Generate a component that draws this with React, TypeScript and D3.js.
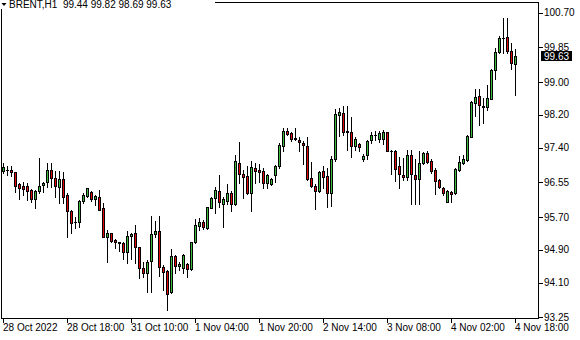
import React from "react";
import * as d3 from "d3";

const symbolLabel = "BRENT,H1";
const lastQuote = ["99.44", "99.82", "98.69", "99.63"];
const lastPriceLabel = "99.63";
const lastPrice = 99.63;

const opens = [96.84,96.86,96.85,96.80,96.50,96.46,96.46,96.37,96.15,96.35,96.49,96.57,96.85,96.67,96.45,96.63,96.24,95.85,95.59,95.59,96.10,96.23,96.31,96.15,96.20,95.92,95.22,95.31,95.14,95.09,95.06,94.86,95.25,95.31,94.96,94.47,94.33,94.64,95.28,95.36,94.49,94.39,93.86,94.75,94.51,94.45,94.56,94.43,95.09,95.49,95.58,95.43,95.93,96.16,96.33,96.03,96.10,96.28,96.02,97.02,96.76,96.71,96.28,96.90,96.85,96.82,96.54,96.50,96.72,96.94,97.45,97.81,97.75,97.63,97.59,97.51,97.44,96.65,96.47,96.35,96.83,96.71,96.30,97.12,98.20,98.24,97.81,97.78,97.45,97.49,97.12,97.22,97.58,97.70,97.60,97.60,97.78,97.33,97.33,96.95,96.73,96.68,97.21,96.73,96.63,97.03,97.26,97.07,96.85,96.61,96.42,96.08,96.31,96.28,96.85,97.02,97.10,97.67,98.50,98.66,98.42,98.40,98.59,99.30,99.75,100.08,100.10,99.77,99.44];
const highs = [97.02,96.95,96.94,96.81,96.54,96.56,96.54,96.38,96.37,97.15,96.55,97.02,97.02,96.84,96.84,96.81,96.28,95.88,95.71,96.12,96.30,96.42,96.35,96.24,96.37,96.04,95.39,95.32,95.16,95.10,95.10,95.37,95.31,95.50,94.98,94.61,94.65,95.73,95.61,95.73,94.52,94.41,94.93,94.78,94.61,94.80,94.57,95.10,95.66,95.67,95.63,95.96,96.20,96.44,96.73,96.19,96.51,96.34,97.22,97.55,96.85,96.96,97.07,97.03,96.99,96.90,96.76,96.67,96.98,97.51,97.87,97.89,97.79,97.87,97.65,97.56,97.66,97.06,96.52,96.84,96.95,96.90,97.20,98.35,98.36,98.41,98.42,98.16,97.65,97.51,97.24,97.59,97.79,97.81,97.81,97.83,97.79,97.34,97.34,97.16,97.14,97.34,97.34,97.12,97.33,97.30,97.33,97.12,96.90,96.63,96.45,96.37,96.34,96.90,97.20,97.22,97.71,98.54,98.83,98.83,98.61,98.93,99.32,99.83,100.13,100.56,100.56,99.95,99.82];
const lows = [96.77,96.73,96.71,96.32,96.15,96.24,96.12,96.08,95.93,96.30,96.32,96.45,96.45,96.19,96.04,96.04,95.22,95.31,95.44,95.45,96.04,96.20,96.10,96.00,95.88,95.21,94.61,95.10,94.94,94.87,94.69,94.57,94.69,94.57,94.22,94.25,93.88,93.88,95.22,94.26,93.92,93.42,93.84,94.33,94.41,94.34,94.23,94.41,95.06,95.39,95.41,95.41,95.92,95.81,95.96,95.47,96.02,95.84,96.00,96.53,96.18,96.26,95.86,96.54,96.55,96.42,96.42,96.49,96.57,96.90,97.33,97.71,97.56,97.59,97.32,97.01,96.60,96.44,95.90,96.32,96.41,95.96,95.98,97.08,97.69,97.70,97.34,97.16,97.34,97.33,97.07,97.12,97.51,97.59,97.55,97.49,97.33,96.75,96.59,96.41,96.61,96.61,96.02,96.02,96.02,97.00,97.02,96.79,96.27,96.41,96.24,96.07,96.06,96.27,96.84,97.00,97.08,97.65,98.18,97.95,98.00,98.31,98.58,99.08,99.71,99.72,99.71,99.32,98.69];
const closes = [96.92,96.85,96.80,96.47,96.41,96.39,96.35,96.15,96.34,96.46,96.53,96.85,96.65,96.47,96.63,96.20,95.84,95.57,95.58,96.10,96.24,96.41,96.15,96.22,95.88,95.22,95.31,95.13,95.09,95.08,94.86,95.25,95.28,94.96,94.47,94.34,94.61,95.28,95.36,94.49,94.37,93.82,94.74,94.51,94.55,94.78,94.43,95.09,95.51,95.59,95.45,95.94,96.16,96.36,96.06,96.14,96.28,96.02,97.07,96.75,96.69,96.28,96.92,96.84,96.81,96.54,96.73,96.63,96.95,97.47,97.81,97.74,97.62,97.62,97.53,97.46,96.63,96.46,96.35,96.81,96.69,96.30,97.12,98.22,98.26,97.79,97.78,97.45,97.61,97.41,97.20,97.56,97.71,97.71,97.77,97.78,97.33,97.32,96.89,96.76,96.68,97.21,96.75,96.63,97.02,97.26,97.04,96.84,96.59,96.43,96.28,96.34,96.26,96.87,97.05,97.12,97.69,98.51,98.65,98.44,98.39,98.61,99.30,99.75,100.07,100.09,99.76,99.46,99.63];

const priceTicks = [100.70, 99.85, 99.00, 98.20, 97.40, 96.55, 95.70, 94.90, 94.10, 93.25];
const timeTickIndex = [0, 16, 32, 48, 64, 80, 96, 112, 128];
const timeTickLabels = ["28 Oct 2022", "28 Oct 18:00", "31 Oct 10:00", "1 Nov 04:00", "1 Nov 20:00", "2 Nov 14:00", "3 Nov 08:00", "4 Nov 02:00", "4 Nov 18:00"];

const W = 580;
const H = 340;
const L = 1.5, T = 2.5, R = 538.5, B = 318.5;
const UP = "#3cbc3c";
const DOWN = "#e2080a";
const FONT = "'Liberation Sans', Arial, sans-serif";

export default function App() {
  const y = d3.scaleLinear().domain([93.25, 100.70]).range([317.4, 12.7]);
  const x = d3.scaleLinear().domain([0, opens.length - 1]).range([3.5, 515.5]);

  const candles = opens.map((o, i) => {
    const c = closes[i];
    const cx = x(i);
    const yh = Math.round(y(highs[i]));
    const yl = Math.round(y(lows[i]));
    const yt = Math.round(y(Math.max(o, c)));
    const yb = Math.round(y(Math.min(o, c)));
    const col = c >= o ? UP : DOWN;
    return (
      <g key={i}>
        <line x1={cx} x2={cx} y1={yh} y2={yl + 1} stroke="#000" strokeWidth={1} />
        {yb - yt < 1 ? (
          <line x1={cx - 1.5} x2={cx + 1.5} y1={yt + 0.5} y2={yt + 0.5} stroke="#000" strokeWidth={1} />
        ) : (
          <rect x={cx - 1} y={yt + 0.5} width={2} height={yb - yt} fill={col} stroke="#000" strokeWidth={1} />
        )}
      </g>
    );
  });

  const ly = y(lastPrice);

  return (
    <svg width={W} height={H} style={{ display: "block", position: "absolute", left: 0, top: 0 }} shapeRendering="crispEdges">
      <rect x={0} y={0} width={W} height={H} fill="#fff" />
      {/* frame */}
      <line x1={L} x2={R} y1={T} y2={T} stroke="#000" />
      <line x1={L} x2={R} y1={B} y2={B} stroke="#000" />
      <line x1={L} x2={L} y1={T} y2={B} stroke="#000" />
      <line x1={R} x2={R} y1={T} y2={B} stroke="#000" />
      {candles}
      {/* price axis */}
      {priceTicks.map((p, i) => (
        <g key={i}>
          <line x1={R} x2={R + 4} y1={Math.round(y(p)) + 0.5} y2={Math.round(y(p)) + 0.5} stroke="#000" />
          <text x={544} y={y(p)} dy="0.35em" fontFamily={FONT} fontSize={10} fill="#000" shapeRendering="auto">
            {p.toFixed(2)}
          </text>
        </g>
      ))}
      <rect x={541} y={Math.round(ly) - 5} width={31} height={10} fill="#000" />
      <text x={544} y={ly} dy="0.35em" fontFamily={FONT} fontSize={10} fill="#fff">
        {lastPriceLabel}
      </text>
      {/* time axis */}
      {timeTickIndex.map((idx, i) => (
        <g key={i}>
          <line x1={x(idx)} x2={x(idx)} y1={B} y2={B + 4} stroke="#000" />
          <text x={x(idx) - 0.5} y={331} fontFamily={FONT} fontSize={10} fill="#000">
            {timeTickLabels[i]}
          </text>
        </g>
      ))}
      {/* header */}
      <rect x={0} y={0} width={215} height={9} fill="#fff" />
      <polygon points="1.5,3 6.5,3 4,6" fill="#000" shapeRendering="auto" />
      <text x={9} y={8} fontFamily={FONT} fontSize={10} fill="#000" xmlSpace="preserve">
        {symbolLabel + "  " + lastQuote.join(" ")}
      </text>
    </svg>
  );
}
